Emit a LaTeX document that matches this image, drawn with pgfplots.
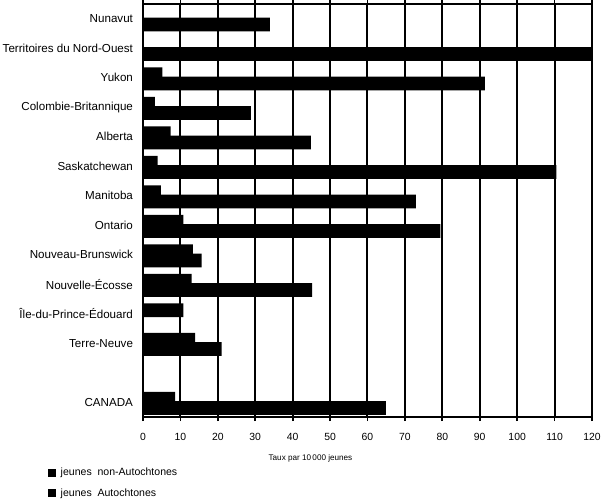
\documentclass[border=0pt]{standalone}
\usepackage{fontspec}
\setmainfont{Liberation Sans}
\usepackage{pgfplots}
\pgfplotsset{compat=1.18}

\begin{document}
\begin{tikzpicture}
\begin{axis}[
  name=ax,
  scale only axis,
  width=336.75pt, height=309.75pt,
  xbar,
  xmin=0, xmax=120,
  ymin=-0.5, ymax=13.5,
  y dir=reverse,
  bar width=0.47,
  xtick={0,10,...,120},
  % slot 12 is left empty, as in the original
  ytick={0,1,2,3,4,5,6,7,8,9,10,11,13},
  yticklabels={Nunavut,Territoires du Nord-Ouest,Yukon,Colombie-Britannique,Alberta,Saskatchewan,Manitoba,Ontario,Nouveau-Brunswick,Nouvelle-\'Ecosse,\^Ile-du-Prince-\'Edouard,Terre-Neuve,CANADA},
  ytick style={draw=none},
  xtick align=outside,
  major tick length=3pt,
  xtick style={black, line width=1.3pt},
  xmajorgrids,
  grid style={black, line width=1.5pt},
  major grid style={black, line width=1.5pt},
  axis line style={black, line width=1.4pt},
  /pgf/number format/assume math mode=true,
  xticklabel style={font=\fontsize{7.8}{9}\selectfont, yshift=-5.5pt},
  yticklabel style={font=\fontsize{8.7}{10}\selectfont, xshift=-1pt},
  xlabel={Taux par 10\,000 jeunes},
  xlabel style={font=\fontsize{6.1}{7}\selectfont, at={(rel axis cs:0.373,0)}, anchor=center, yshift=-31pt},
  legend cell align=left,
  legend style={draw=none, fill=none, at={(rel axis cs:-0.212,-0.117)}, anchor=north west,
    font=\fontsize{7.9}{9}\selectfont, row sep=4pt, inner sep=0pt,
    nodes={inner xsep=3.5pt}},
  legend image code/.code={\fill[black] (0pt,-3pt) rectangle (6pt,3pt);},
]
\addplot[fill=black, draw=none, bar shift=-0.12] coordinates {
  (5.2,2) (3.2,3) (7.4,4) (3.9,5) (4.8,6) (10.8,7) (13.3,8) (13.0,9) (10.8,10) (13.9,11) (8.6,13)
};
\addlegendentry{jeunes\ \ non-Autochtones}
\addplot[fill=black, draw=none, bar shift=0.195] coordinates {
  (33.9,0) (120.5,1) (91.4,2) (28.8,3) (44.9,4) (110.5,5) (72.9,6) (79.5,7) (15.7,8) (45.2,9) (21.0,11) (64.9,13)
};
\addlegendentry{jeunes\ \ Autochtones}
\end{axis}
\pgfresetboundingbox
\path[use as bounding box] (ax.south west) ++(-107.25pt,-63.75pt) rectangle ++(453pt,376.5pt);
\end{tikzpicture}
\end{document}
